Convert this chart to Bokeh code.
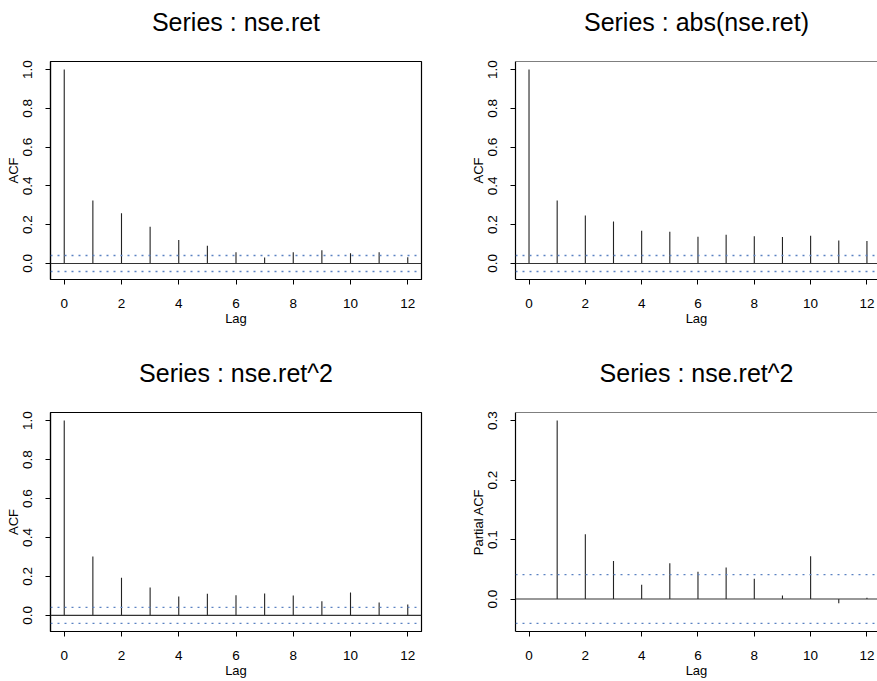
from bokeh.plotting import figure
from bokeh.models import Range1d, FixedTicker, NumeralTickFormatter, Span, Title
from bokeh.layouts import column, row
from bokeh.embed import file_html
from bokeh.resources import INLINE

# ---- data ----
lags = [0, 1, 2, 3, 4, 5, 6, 7, 8, 9, 10, 11, 12]
acf_ret = [1.0, 0.325, 0.259, 0.189, 0.121, 0.092, 0.058, 0.031, 0.058, 0.068, 0.053, 0.058, 0.032]
acf_abs = [1.0, 0.325, 0.247, 0.216, 0.169, 0.164, 0.138, 0.148, 0.140, 0.136, 0.143, 0.118, 0.116]
acf_sq = [1.0, 0.302, 0.193, 0.143, 0.097, 0.111, 0.104, 0.112, 0.102, 0.073, 0.118, 0.066, 0.056]
pacf_lags = [1, 2, 3, 4, 5, 6, 7, 8, 9, 10, 11, 12]
pacf_sq = [0.300, 0.109, 0.064, 0.024, 0.060, 0.046, 0.053, 0.034, 0.006, 0.072, -0.007, 0.002]
conf_bound = 0.041

titles = ["Series : nse.ret", "Series : abs(nse.ret)", "Series : nse.ret^2", "Series : nse.ret^2"]
ylabels = ["ACF", "ACF", "ACF", "Partial ACF"]
lag_ticks = [0, 2, 4, 6, 8, 10, 12]
acf_ticks = [0.0, 0.2, 0.4, 0.6, 0.8, 1.0]
pacf_ticks = [0.0, 0.1, 0.2, 0.3]

FONT = "Liberation Sans"
LEFT_FRAME_W = 371
RIGHT_FRAME_W = 368
X_START = -0.48
X_END = 12.48


def panel(title, xs, ys, ylabel, yticks, is_right, is_top):
    lo = min(min(ys), -conf_bound)
    hi = max(max(ys), conf_bound)
    pad = 0.04 * (hi - lo)
    bl = 42 if is_right else 50
    br = 0 if is_right else 46
    bt = 59 if is_top else 84
    fh = 220 if is_top else 219
    bb = 49
    if is_right:
        px_per = LEFT_FRAME_W / (X_END - X_START)
        x_end = X_START + RIGHT_FRAME_W / px_per
        fw = RIGHT_FRAME_W
    else:
        x_end = X_END
        fw = LEFT_FRAME_W
    p = figure(width=bl + fw + br, height=bt + fh + bb,
               x_range=Range1d(X_START, x_end), y_range=Range1d(lo - pad, hi + pad),
               output_backend="svg", toolbar_location=None,
               min_border_left=bl, min_border_right=br,
               min_border_top=bt, min_border_bottom=bb,
               background_fill_color="white", border_fill_color="white")
    p.title.text = ""
    # spacer between frame and title (closest to the frame)
    p.add_layout(Title(text=" ", text_font=FONT, text_font_size="10px", standoff=8), "above")
    # real title; right-hand titles are centred on a full-width plot region
    off = 0
    if is_right:
        off = (LEFT_FRAME_W - RIGHT_FRAME_W) // 2
    p.add_layout(Title(text=title, align="center", offset=off, text_font=FONT,
                       text_font_size="25px", text_font_style="normal",
                       text_color="black", standoff=10), "above")
    p.xgrid.visible = False
    p.ygrid.visible = False
    if is_right:
        p.outline_line_color = None
        p.add_layout(Span(location=hi + pad, dimension="width",
                          line_color="black", line_width=1.2))
    else:
        p.outline_line_color = "black"
        p.outline_line_width = 1.2

    for ax in (p.xaxis[0], p.yaxis[0]):
        ax.axis_line_color = "black"
        ax.axis_line_width = 1.2
        ax.major_tick_line_color = "black"
        ax.major_tick_in = 0
        ax.major_tick_out = 5
        ax.minor_tick_line_color = None
        ax.major_label_text_font = FONT
        ax.major_label_text_font_size = "13.5px"
        ax.major_label_text_color = "black"
        ax.axis_label_text_font = FONT
        ax.axis_label_text_font_size = "13px"
        ax.axis_label_text_font_style = "normal"
        ax.axis_label_text_color = "black"

    p.xaxis.ticker = FixedTicker(ticks=lag_ticks)
    p.xaxis.axis_label = "Lag"
    p.xaxis.major_label_standoff = 14
    p.xaxis.axis_label_standoff = 0

    p.yaxis.ticker = FixedTicker(ticks=yticks)
    p.yaxis.formatter = NumeralTickFormatter(format="0.0")
    p.yaxis.major_label_orientation = "parallel"
    p.yaxis.major_label_standoff = 13
    p.yaxis.axis_label = ylabel
    p.yaxis.axis_label_standoff = 0

    for loc in (conf_bound, -conf_bound):
        p.add_layout(Span(location=loc, dimension="width", line_color="#5b82c2",
                          line_width=1.4, line_dash="2 5"))
    p.add_layout(Span(location=0, dimension="width", line_color="#333333", line_width=1.2))

    p.segment(x0=xs, y0=[0] * len(xs), x1=xs, y1=ys, line_color="#222222", line_width=1.1)
    return p


p1 = panel(titles[0], lags, acf_ret, ylabels[0], acf_ticks, False, True)
p2 = panel(titles[1], lags, acf_abs, ylabels[1], acf_ticks, True, True)
p3 = panel(titles[2], lags, acf_sq, ylabels[2], acf_ticks, False, False)
p4 = panel(titles[3], pacf_lags, pacf_sq, ylabels[3], pacf_ticks, True, False)

layout = column(row(p1, p2, spacing=0), row(p3, p4, spacing=0), spacing=0)
open("out.html", "w").write(file_html(layout, INLINE))
